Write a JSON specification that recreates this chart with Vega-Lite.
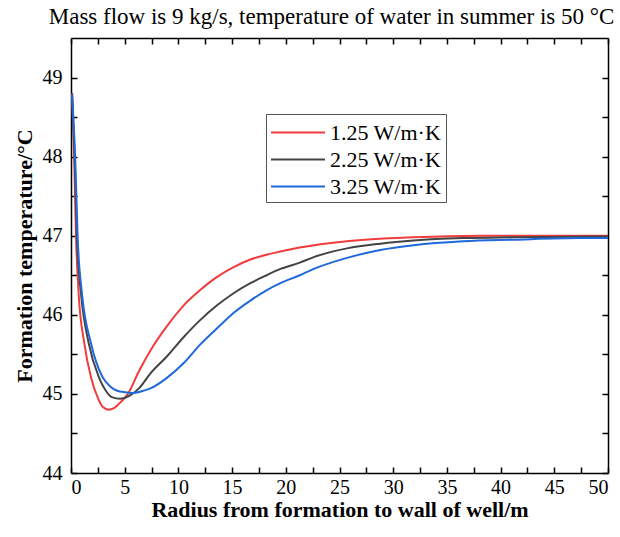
{
  "$schema": "https://vega.github.io/schema/vega-lite/v6.json",
  "width": 537,
  "height": 435,
  "autosize": "none",
  "padding": {"left": 71, "top": 38, "right": 12, "bottom": 64},
  "background": "white",
  "title": {
    "text": "Mass flow is 9 kg/s, temperature of water in summer is 50 °C",
    "font": "Liberation Serif",
    "fontSize": 23,
    "fontWeight": "normal",
    "color": "black",
    "anchor": "middle",
    "offset": 8,
    "dx": -8
  },
  "config": {
    "view": {"stroke": null},
    "axis": {
      "domainColor": "black",
      "domainWidth": 1.5,
      "tickColor": "black",
      "tickWidth": 1.5,
      "grid": false,
      "labelFont": "Liberation Serif",
      "labelFontSize": 20,
      "labelColor": "black",
      "titleFont": "Liberation Serif",
      "titleFontSize": 22,
      "titleFontWeight": "bold",
      "titleColor": "black"
    }
  },
  "datasets": {
    "curves": [
      {"r": 0.1, "t": 48.8, "k": "1.25 W/m·K"},
      {"r": 0.3, "t": 47.95, "k": "1.25 W/m·K"},
      {"r": 0.47, "t": 46.98, "k": "1.25 W/m·K"},
      {"r": 0.71, "t": 46.27, "k": "1.25 W/m·K"},
      {"r": 1.24, "t": 45.64, "k": "1.25 W/m·K"},
      {"r": 1.86, "t": 45.21, "k": "1.25 W/m·K"},
      {"r": 2.5, "t": 44.95, "k": "1.25 W/m·K"},
      {"r": 3.0, "t": 44.83, "k": "1.25 W/m·K"},
      {"r": 3.5, "t": 44.8, "k": "1.25 W/m·K"},
      {"r": 4.0, "t": 44.82, "k": "1.25 W/m·K"},
      {"r": 4.5, "t": 44.88, "k": "1.25 W/m·K"},
      {"r": 5.3, "t": 45.0, "k": "1.25 W/m·K"},
      {"r": 6.3, "t": 45.28, "k": "1.25 W/m·K"},
      {"r": 7.4, "t": 45.55, "k": "1.25 W/m·K"},
      {"r": 8.9, "t": 45.85, "k": "1.25 W/m·K"},
      {"r": 10.5, "t": 46.12, "k": "1.25 W/m·K"},
      {"r": 12.0, "t": 46.31, "k": "1.25 W/m·K"},
      {"r": 13.6, "t": 46.48, "k": "1.25 W/m·K"},
      {"r": 15.1, "t": 46.6, "k": "1.25 W/m·K"},
      {"r": 16.7, "t": 46.7, "k": "1.25 W/m·K"},
      {"r": 18.2, "t": 46.76, "k": "1.25 W/m·K"},
      {"r": 19.5, "t": 46.8, "k": "1.25 W/m·K"},
      {"r": 21.3, "t": 46.85, "k": "1.25 W/m·K"},
      {"r": 25.7, "t": 46.93, "k": "1.25 W/m·K"},
      {"r": 31.9, "t": 46.98, "k": "1.25 W/m·K"},
      {"r": 38.1, "t": 47.0, "k": "1.25 W/m·K"},
      {"r": 50, "t": 47.0, "k": "1.25 W/m·K"},
      {"r": 0.1, "t": 48.8, "k": "2.25 W/m·K"},
      {"r": 0.35, "t": 47.95, "k": "2.25 W/m·K"},
      {"r": 0.55, "t": 46.98, "k": "2.25 W/m·K"},
      {"r": 0.93, "t": 46.27, "k": "2.25 W/m·K"},
      {"r": 1.65, "t": 45.64, "k": "2.25 W/m·K"},
      {"r": 2.6, "t": 45.21, "k": "2.25 W/m·K"},
      {"r": 3.2, "t": 45.05, "k": "2.25 W/m·K"},
      {"r": 3.8, "t": 44.96, "k": "2.25 W/m·K"},
      {"r": 4.6, "t": 44.94, "k": "2.25 W/m·K"},
      {"r": 5.5, "t": 44.98, "k": "2.25 W/m·K"},
      {"r": 6.4, "t": 45.08, "k": "2.25 W/m·K"},
      {"r": 7.4, "t": 45.26, "k": "2.25 W/m·K"},
      {"r": 8.9, "t": 45.47, "k": "2.25 W/m·K"},
      {"r": 10.5, "t": 45.72, "k": "2.25 W/m·K"},
      {"r": 12.0, "t": 45.93, "k": "2.25 W/m·K"},
      {"r": 13.6, "t": 46.12, "k": "2.25 W/m·K"},
      {"r": 15.1, "t": 46.27, "k": "2.25 W/m·K"},
      {"r": 16.7, "t": 46.4, "k": "2.25 W/m·K"},
      {"r": 18.2, "t": 46.5, "k": "2.25 W/m·K"},
      {"r": 19.5, "t": 46.58, "k": "2.25 W/m·K"},
      {"r": 21.3, "t": 46.66, "k": "2.25 W/m·K"},
      {"r": 22.6, "t": 46.73, "k": "2.25 W/m·K"},
      {"r": 25.7, "t": 46.84, "k": "2.25 W/m·K"},
      {"r": 28.8, "t": 46.9, "k": "2.25 W/m·K"},
      {"r": 31.9, "t": 46.94, "k": "2.25 W/m·K"},
      {"r": 36.5, "t": 46.97, "k": "2.25 W/m·K"},
      {"r": 41.2, "t": 46.98, "k": "2.25 W/m·K"},
      {"r": 50, "t": 46.99, "k": "2.25 W/m·K"},
      {"r": 0.1, "t": 48.78, "k": "3.25 W/m·K"},
      {"r": 0.4, "t": 47.95, "k": "3.25 W/m·K"},
      {"r": 0.62, "t": 46.98, "k": "3.25 W/m·K"},
      {"r": 1.02, "t": 46.27, "k": "3.25 W/m·K"},
      {"r": 1.86, "t": 45.64, "k": "3.25 W/m·K"},
      {"r": 2.95, "t": 45.21, "k": "3.25 W/m·K"},
      {"r": 3.6, "t": 45.1, "k": "3.25 W/m·K"},
      {"r": 4.3, "t": 45.04, "k": "3.25 W/m·K"},
      {"r": 5.1, "t": 45.02, "k": "3.25 W/m·K"},
      {"r": 5.8, "t": 45.01, "k": "3.25 W/m·K"},
      {"r": 6.5, "t": 45.03, "k": "3.25 W/m·K"},
      {"r": 7.4, "t": 45.07, "k": "3.25 W/m·K"},
      {"r": 8.9, "t": 45.2, "k": "3.25 W/m·K"},
      {"r": 10.5, "t": 45.39, "k": "3.25 W/m·K"},
      {"r": 12.0, "t": 45.62, "k": "3.25 W/m·K"},
      {"r": 13.6, "t": 45.83, "k": "3.25 W/m·K"},
      {"r": 15.1, "t": 46.02, "k": "3.25 W/m·K"},
      {"r": 16.7, "t": 46.18, "k": "3.25 W/m·K"},
      {"r": 18.2, "t": 46.31, "k": "3.25 W/m·K"},
      {"r": 19.5, "t": 46.4, "k": "3.25 W/m·K"},
      {"r": 21.3, "t": 46.5, "k": "3.25 W/m·K"},
      {"r": 22.6, "t": 46.58, "k": "3.25 W/m·K"},
      {"r": 25.7, "t": 46.72, "k": "3.25 W/m·K"},
      {"r": 28.8, "t": 46.82, "k": "3.25 W/m·K"},
      {"r": 31.9, "t": 46.88, "k": "3.25 W/m·K"},
      {"r": 36.5, "t": 46.93, "k": "3.25 W/m·K"},
      {"r": 41.2, "t": 46.95, "k": "3.25 W/m·K"},
      {"r": 47.4, "t": 46.97, "k": "3.25 W/m·K"},
      {"r": 50, "t": 46.97, "k": "3.25 W/m·K"}
    ]
  },
  "data": {"name": "curves"},
  "layer": [
    {
      "mark": {"type": "line", "interpolate": "monotone", "strokeWidth": 2},
      "encoding": {
        "x": {
          "field": "r", "type": "quantitative",
          "scale": {"domain": [0, 50], "nice": false, "zero": false},
          "axis": {
            "orient": "bottom",
            "title": "Radius from formation to wall of well/m",
            "titlePadding": 2,
            "values": [0, 2.5, 5, 7.5, 10, 12.5, 15, 17.5, 20, 22.5, 25, 27.5, 30, 32.5, 35, 37.5, 40, 42.5, 45, 47.5, 50],
            "labelExpr": "datum.value % 5 === 0 ? datum.label : ''",
            "tickSize": -6,
            "labelPadding": 10,
            "labelOverlap": false,
            "encode": {"ticks": {"update": {"y2": {"signal": "datum.value % 5 === 0 ? -6 : -3"}}}}
          }
        },
        "y": {
          "field": "t", "type": "quantitative",
          "scale": {"domain": [44, 49.5], "nice": false, "zero": false},
          "axis": {
            "orient": "left",
            "title": "Formation temperature/°C",
            "titlePadding": 6,
            "format": ".0f",
            "values": [44, 44.5, 45, 45.5, 46, 46.5, 47, 47.5, 48, 48.5, 49],
            "labelExpr": "datum.value % 1 === 0 ? datum.label : ''",
            "tickSize": -6,
            "labelPadding": 15,
            "labelOverlap": false,
            "encode": {"ticks": {"update": {"x2": {"signal": "datum.value % 1 === 0 ? 6 : 3"}}}}
          }
        },
        "color": {
          "field": "k", "type": "nominal",
          "scale": {
            "domain": ["1.25 W/m·K", "2.25 W/m·K", "3.25 W/m·K"],
            "range": ["#f03c3c", "#444444", "#1f69dc"]
          },
          "legend": {
            "title": null,
            "orient": "none",
            "legendX": 195,
            "legendY": 76,
            "strokeColor": "#555555",
            "padding": 4,
            "symbolType": "M-1,0H3",
            "symbolSize": 729,
            "symbolStrokeWidth": 2,
            "labelFont": "Liberation Serif",
            "labelFontSize": 22,
            "labelColor": "black",
            "labelOffset": 31,
            "rowPadding": 1,
            "fillColor": "white"
          }
        }
      }
    },
    {
      "mark": {"type": "line", "opacity": 0},
      "encoding": {
        "x": {
          "field": "r", "type": "quantitative",
          "scale": {"domain": [0, 50], "nice": false, "zero": false},
          "axis": {
            "orient": "top",
            "title": null,
            "values": [0, 2.5, 5, 7.5, 10, 12.5, 15, 17.5, 20, 22.5, 25, 27.5, 30, 32.5, 35, 37.5, 40, 42.5, 45, 47.5, 50],
            "labels": false,
            "tickSize": -6,
            "encode": {"ticks": {"update": {"y2": {"signal": "datum.value % 5 === 0 ? 6 : 3"}}}}
          }
        },
        "y": {
          "field": "t", "type": "quantitative",
          "scale": {"domain": [44, 49.5], "nice": false, "zero": false},
          "axis": {
            "orient": "right",
            "title": null,
            "values": [44, 44.5, 45, 45.5, 46, 46.5, 47, 47.5, 48, 48.5, 49],
            "labels": false,
            "tickSize": -6,
            "encode": {"ticks": {"update": {"x2": {"signal": "datum.value % 1 === 0 ? -6 : -3"}}}}
          }
        },
        "detail": {"field": "k", "type": "nominal"}
      }
    }
  ],
  "resolve": {"axis": {"x": "independent", "y": "independent"}}
}
